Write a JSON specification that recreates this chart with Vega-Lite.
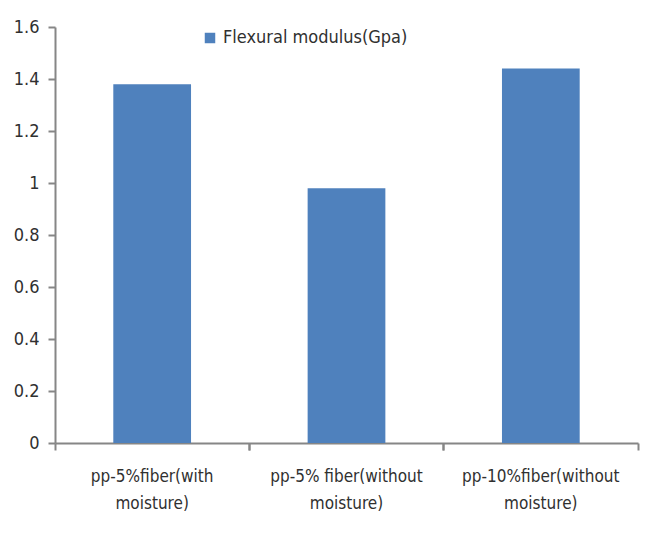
{
  "$schema": "https://vega.github.io/schema/vega-lite/v6.json",
  "autosize": "none",
  "padding": {"left": 55, "top": 27, "right": 19, "bottom": 90},
  "width": 583,
  "height": 416,
  "background": "white",
  "config": {
    "view": {"stroke": null},
    "font": "Liberation Sans Narrow, DejaVu Sans Condensed, sans-serif"
  },
  "data": {
    "values": [
      {"sample": "pp-5%fiber(with moisture)", "measure": "Flexural modulus(Gpa)", "value": 1.38},
      {"sample": "pp-5% fiber(without moisture)", "measure": "Flexural modulus(Gpa)", "value": 0.98},
      {"sample": "pp-10%fiber(without moisture)", "measure": "Flexural modulus(Gpa)", "value": 1.44}
    ]
  },
  "resolve": {"axis": {"x": "independent"}},
  "layer": [
    {
      "mark": {"type": "bar", "color": "#4F81BD", "width": {"band": 0.4}},
      "encoding": {
        "x": {
          "field": "sample",
          "type": "nominal",
          "sort": null,
          "scale": {"paddingInner": 0, "paddingOuter": 0},
          "axis": {
            "orient": "bottom",
            "title": null,
            "labelAngle": 0,
            "labelExpr": "[replace(datum.label, ' moisture)', ''), 'moisture)']",
            "labelFontSize": 17,
            "labelColor": "#303030",
            "labelLineHeight": 27,
            "labelPadding": 18,
            "labelBound": false,
            "labelOverlap": false,
            "domainColor": "#868686",
            "domainWidth": 2,
            "tickColor": "#868686",
            "tickWidth": 2,
            "tickSize": 7,
            "bandPosition": 0
          }
        },
        "y": {
          "field": "value",
          "type": "quantitative",
          "scale": {"domain": [0, 1.6]},
          "axis": {
            "title": null,
            "values": [0, 0.2, 0.4, 0.6, 0.8, 1, 1.2, 1.4, 1.6],
            "format": "~g",
            "grid": false,
            "labelFontSize": 18,
            "labelColor": "#303030",
            "labelPadding": 9,
            "domainColor": "#868686",
            "domainWidth": 2,
            "tickColor": "#868686",
            "tickWidth": 2,
            "tickSize": 7
          }
        },
        "color": {
          "field": "measure",
          "type": "nominal",
          "scale": {"range": ["#4F81BD"]},
          "legend": {
            "title": null,
            "orient": "none",
            "legendX": 146,
            "legendY": 2,
            "symbolType": "square",
            "symbolSize": 110,
            "symbolStrokeWidth": 0,
            "labelFontSize": 18,
            "labelColor": "#303030",
            "labelOffset": 4,
            "labelLimit": 0
          }
        }
      }
    },
    {
      "mark": {"type": "bar", "opacity": 0},
      "encoding": {
        "x": {
          "field": "sample",
          "type": "nominal",
          "sort": null,
          "scale": {"paddingInner": 0, "paddingOuter": 0},
          "axis": {
            "orient": "bottom",
            "title": null,
            "labels": false,
            "domain": false,
            "tickColor": "#868686",
            "tickWidth": 2,
            "tickSize": 7,
            "bandPosition": 1
          }
        },
        "y": {"field": "value", "type": "quantitative"}
      }
    }
  ]
}
